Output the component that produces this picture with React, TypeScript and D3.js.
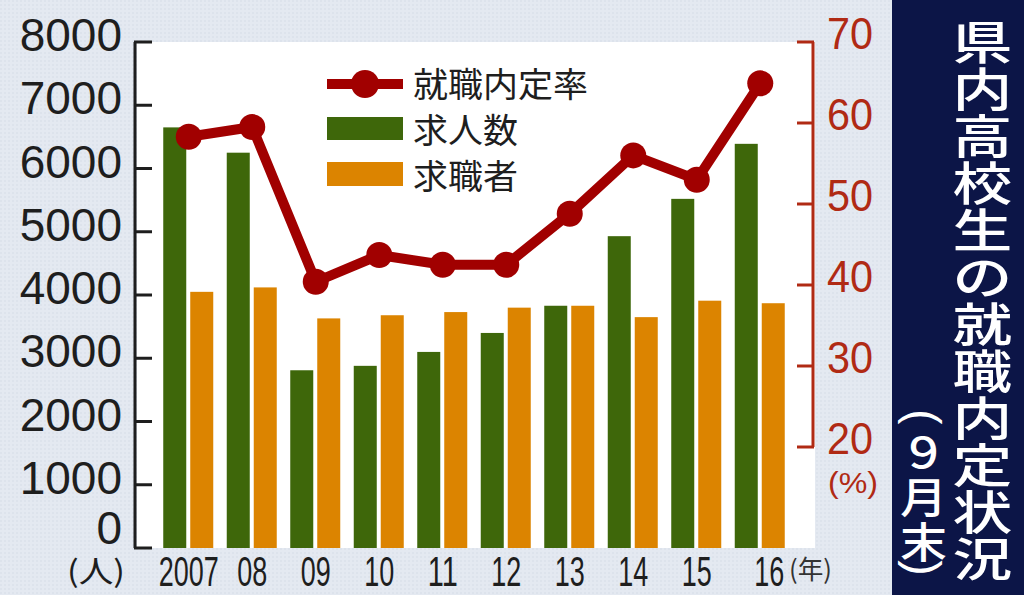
import React from 'react';
import * as d3 from 'd3';

const years = ['2007', '08', '09', '10', '11', '12', '13', '14', '15', '16'];
const jobOffers = [6650, 6250, 2810, 2880, 3100, 3400, 3830, 4930, 5520, 6390];
const jobSeekers = [4050, 4120, 3630, 3680, 3730, 3800, 3830, 3650, 3910, 3870];
const placementRate = [58.3, 59.5, 40.4, 43.7, 42.5, 42.5, 48.8, 56.0, 53.0, 64.9];
const leftTicks = [0, 1000, 2000, 3000, 4000, 5000, 6000, 7000, 8000];
const rightTicks = [20, 30, 40, 50, 60, 70];
const seriesKeys = ['求人数', '求職者'];
const legendItems = ['就職内定率', '求人数', '求職者'];
const titleMain = ['県', '内', '高', '校', '生', 'の', '就', '職', '内', '定', '状', '況'];
const titleSub = ['(', '９', '月', '末', ')'];

const W = 1024;
const H = 595;
const BG = '#e4e9f1';
const GREEN = '#3e670a';
const ORANGE = '#dc8400';
const RED = '#a10000';
const AXIS_RED = '#b02a14';
const NAVY = '#0c1547';
const TEXT = '#1e1e1e';
const NUM_FONT = '"Liberation Sans", Arial, sans-serif';
const JP_FONT = '"Noto Sans CJK JP", "Noto Sans", sans-serif';

export default function App() {
  const x = d3.scaleBand<string>().domain(years).range([157, 792]);
  const sub = d3.scaleBand<string>().domain(seriesKeys).range([-25.5, 24.5]).paddingInner(0.148);
  const yL = d3.scaleLinear().domain([0, 8000]).range([548, 42]);
  const yR = d3.scaleLinear().domain([20, 70]).range([447, 42]);
  const cx = (y: string) => (x(y) as number) + x.bandwidth() / 2;

  const line = d3
    .line<number>()
    .x((_, i) => cx(years[i]))
    .y((d) => yR(d));

  const seriesValues = [jobOffers, jobSeekers];
  const seriesColors = [GREEN, ORANGE];
  const subY = [417, 450, 495, 540, 568];

  return (
    <svg
      width={W}
      height={H}
      style={{ position: 'absolute', left: 0, top: 0, display: 'block' }}
    >
      <defs>
        <pattern id="dots" width="4" height="4" patternUnits="userSpaceOnUse">
          <rect width="4" height="4" fill={BG} />
          <rect width="2" height="2" fill="#dde3ec" />
        </pattern>
      </defs>
      <rect x={0} y={0} width={W} height={H} fill="url(#dots)" />
      {/* plot area */}
      <rect x={137} y={42} width={678} height={506} fill="#ffffff" />

      {/* bars */}
      {seriesValues.map((vals, si) =>
        vals.map((v, i) => (
          <rect
            key={`b${si}-${i}`}
            x={cx(years[i]) + (sub(seriesKeys[si]) as number)}
            y={yL(v)}
            width={sub.bandwidth()}
            height={yL(0) - yL(v)}
            fill={seriesColors[si]}
          />
        ))
      )}

      {/* line */}
      <path d={line(placementRate) || ''} fill="none" stroke={RED} strokeWidth={10} strokeLinejoin="round" />
      {placementRate.map((v, i) => (
        <circle key={`m${i}`} cx={cx(years[i])} cy={yR(v)} r={13} fill={RED} />
      ))}

      {/* left axis */}
      <line x1={135} x2={135} y1={yL(8000)} y2={yL(0)} stroke={TEXT} strokeWidth={3} />
      {leftTicks.map((t) => (
        <g key={`lt${t}`}>
          <line x1={134} x2={152} y1={yL(t)} y2={yL(t)} stroke={TEXT} strokeWidth={3} />
          <text
            x={122}
            y={yL(t) - (t === 0 ? 20 : 7)}
            textAnchor="end"
            dominantBaseline="central"
            fontFamily={NUM_FONT}
            fontSize={46}
            fill={TEXT}
          >
            {t}
          </text>
        </g>
      ))}
      <text
        x={67}
        y={569}
        dominantBaseline="central"
        fontFamily={JP_FONT}
        fontSize={30}
        fill={TEXT}
        textLength={58}
        lengthAdjust="spacingAndGlyphs"
      >
        (人)
      </text>

      {/* right axis */}
      <line x1={813} x2={813} y1={yR(70)} y2={yR(20)} stroke={AXIS_RED} strokeWidth={3} />
      {rightTicks.map((t) => (
        <g key={`rt${t}`}>
          <line x1={797} x2={814} y1={yR(t)} y2={yR(t)} stroke={AXIS_RED} strokeWidth={3} />
          <text
            x={827}
            y={yR(t) - 9}
            dominantBaseline="central"
            fontFamily={NUM_FONT}
            fontSize={45}
            fill={AXIS_RED}
            textLength={46}
            lengthAdjust="spacingAndGlyphs"
          >
            {t}
          </text>
        </g>
      ))}
      <text
        x={828}
        y={482}
        dominantBaseline="central"
        fontFamily={NUM_FONT}
        fontSize={30}
        fill={AXIS_RED}
        textLength={50}
        lengthAdjust="spacingAndGlyphs"
      >
        (%)
      </text>

      {/* x labels */}
      {years.map((y, i) => (
        <text
          key={`xl${y}`}
          x={cx(y) + (i === years.length - 1 ? 9 : 0)}
          y={571}
          textAnchor="middle"
          dominantBaseline="central"
          fontFamily={NUM_FONT}
          fontSize={42}
          fill={TEXT}
          textLength={y.length * 15}
          lengthAdjust="spacingAndGlyphs"
        >
          {y}
        </text>
      ))}
      <text
        x={789}
        y={567}
        dominantBaseline="central"
        fontFamily={JP_FONT}
        fontSize={26}
        fill="#333"
        textLength={43}
        lengthAdjust="spacingAndGlyphs"
      >
        (年)
      </text>

      {/* legend */}
      <g>
        <line x1={327} x2={403} y1={84} y2={84} stroke={RED} strokeWidth={10} />
        <circle cx={365} cy={84} r={14} fill={RED} />
        <rect x={327} y={117} width={76} height={23} fill={GREEN} />
        <rect x={327} y={162} width={76} height={24} fill={ORANGE} />
        {legendItems.map((t, i) => (
          <text
            key={`lg${t}`}
            x={413}
            y={82 + i * 46}
            dominantBaseline="central"
            fontFamily={JP_FONT}
            fontSize={34}
            fill={TEXT}
            textLength={t.length * 35}
            lengthAdjust="spacingAndGlyphs"
          >
            {t}
          </text>
        ))}
      </g>

      {/* title panel */}
      <rect x={892} y={0} width={W - 892} height={H} fill={NAVY} />
      {titleMain.map((c, i) => (
        <text
          key={`tm${i}`}
          transform={`translate(982.5, ${39 + i * 47}) scale(1.3, 1)`}
          textAnchor="middle"
          dominantBaseline="central"
          fontFamily={JP_FONT}
          fontWeight={500}
          fontSize={46}
          fill="#ffffff"
        >
          {c}
        </text>
      ))}
      {titleSub.map((c, i) => {
        const isParen = c === '(' || c === ')';
        return isParen ? (
          <text
            key={`ts${i}`}
            transform={`translate(923.5, ${subY[i]}) rotate(90)`}
            textAnchor="middle"
            dominantBaseline="central"
            fontFamily={NUM_FONT}
            fontSize={46}
            fill="#ffffff"
          >
            {c}
          </text>
        ) : (
          <text
            key={`ts${i}`}
            transform={`translate(923.5, ${subY[i]}) scale(1.12, 1)`}
            textAnchor="middle"
            dominantBaseline="central"
            fontFamily={JP_FONT}
            fontWeight={500}
            fontSize={42}
            fill="#ffffff"
          >
            {c}
          </text>
        );
      })}
    </svg>
  );
}
